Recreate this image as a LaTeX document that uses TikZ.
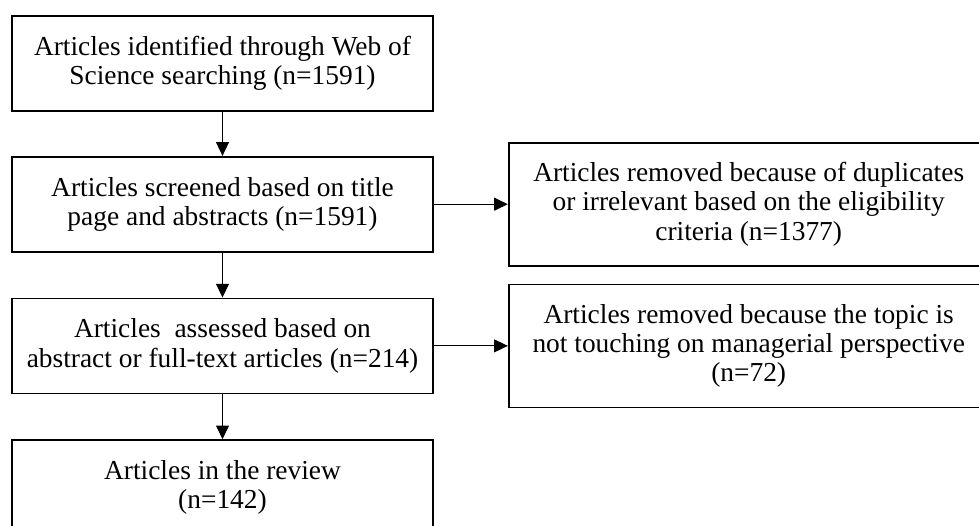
\documentclass[tikz,border=0pt]{standalone}
\usepackage{fontspec}
\setmainfont{Liberation Serif}
\usepackage{tikz}
\usetikzlibrary{arrows.meta, positioning}

\begin{document}
\begin{tikzpicture}[
    node distance=1.1cm and 1.85cm,
    stage/.style={rectangle, draw, line width=1.2pt, align=center,
      minimum width=10.525cm, minimum height=2.375cm,
      font=\fontsize{19.5}{20.8}\selectfont},
    removed/.style={stage, minimum width=12cm, minimum height=3.075cm},
    flow/.style={draw, line width=0.8pt, -{Triangle[length=3.4mm, width=3.2mm]}}]
  \useasboundingbox (0,0) rectangle (24.475,-13.125);
  \clip (0,0) rectangle (24.475,-13.125);
  \node[stage] (ident) at (5.5625,-1.5875)
    {Articles identified through Web of\\ Science searching (n=1591)};
  \node[stage, below=of ident] (screen)
    {Articles screened based on title\\ page and abstracts (n=1591)};
  \node[stage, below=1.125cm of screen] (assess)
    {Articles~ assessed based on\\ abstract or full-text articles (n=214)};
  \node[stage, below=1.125cm of assess] (review)
    {Articles in the review\\ (n=142)};
  \node[removed, right=of screen] (dupl)
    {Articles removed because of duplicates\\ or irrelevant based on the eligibility\\ criteria (n=1377)};
  \node[removed, right=of assess] (topic)
    {Articles removed because the topic is\\ not touching on managerial perspective\\ (n=72)};
  \draw[flow] (ident) -- (screen);
  \draw[flow] (screen) -- (assess);
  \draw[flow] (assess) -- (review);
  \draw[flow] (screen) -- (dupl);
  \draw[flow] (assess) -- (topic);
\end{tikzpicture}
\end{document}
